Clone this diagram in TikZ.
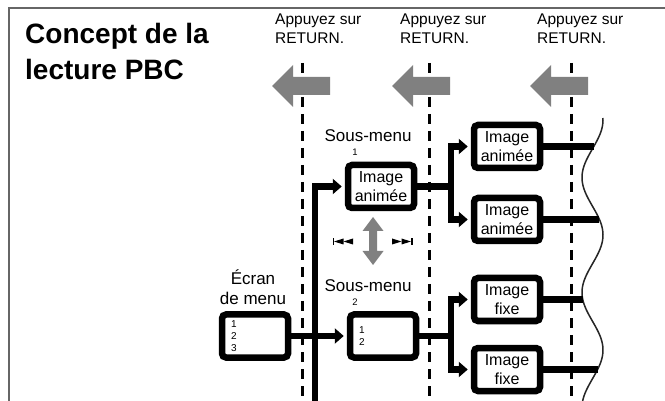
\documentclass[tikz,border=0pt]{standalone}
\usepackage{fontspec}
\setmainfont{Liberation Sans}
\usetikzlibrary{arrows.meta}
\begin{document}
\begin{tikzpicture}[x=1pt,y=-1pt,
  frameline/.style={draw=black!60, line width=1.5pt},
  vdash/.style={line width=3pt, dash pattern=on 10pt off 7pt},
  garrow/.style={fill=black!50},
  box/.style={draw, line width=6.5pt, rounded corners=4pt, minimum width=66pt, minimum height=43pt, inner sep=0pt, fill=white, font=\fontsize{16}{19}\selectfont, align=center},
  numbox/.style={box, align=left, text width=48pt, font=\fontsize{10}{11.7}\selectfont},
  conn/.style={line width=6.5pt},
  arr/.style={-{Triangle[length=9pt,width=15pt]}, shorten >=3pt},
  lbl/.style={font=\fontsize{17}{20}\selectfont, align=center, inner sep=0pt},
  num/.style={font=\fontsize{9.5}{11}\selectfont, inner sep=0pt},
  hint/.style={font=\fontsize{15.5}{19}\selectfont, align=left, inner sep=0pt},
  titlestyle/.style={font=\fontsize{28}{36}\selectfont\bfseries, align=left, inner sep=0pt},
  wave/.style={line width=1.5pt, black!85},
  backarrow/.pic={\fill[garrow] (0,0) -- ++(21,-21) -- ++(0,12) -- ++(37,0) -- ++(0,18) -- ++(-37,0) -- ++(0,12) -- cycle;}
]
\useasboundingbox (0,0) rectangle (665,401);
\fill[white] (0,0) rectangle (665,401);
% frame
\draw[frameline] (9,401) -- (9,8) -- (665,8);
% title (base anchor = last line)
\node[titlestyle, anchor=base west] (title) at (25,80) {Concept de la\\lecture PBC};
% hints
\node[hint, anchor=base west] (r1) at (275,44) {Appuyez sur\\RETURN.};
\node[hint, anchor=base west] (r2) at (400,44) {Appuyez sur\\RETURN.};
\node[hint, anchor=base west] (r3) at (537,44) {Appuyez sur\\RETURN.};
% dashed lines
\draw[vdash] (302,63) -- (302,401);
\draw[vdash] (429,63) -- (429,401);
\draw[vdash] (571,63) -- (571,401);
% gray back arrows
\pic at (272,86) {backarrow};
\pic at (392,86) {backarrow};
\pic at (530,86) {backarrow};
% wave
\draw[wave] plot[domain=118:401, samples=120] ({592.5+10.5*cos(((\x-120)/57.5)*180)}, \x);
% boxes
\node[box] (sub1) at (381,186.5) {Image\\animée};
\node[numbox] (sub2) at (383,336) {1\\2};
\node[numbox] (menu) at (255,336) {1\\2\\3};
\node[box] (A) at (507,146.5) {Image\\animée};
\node[box] (B) at (507,219.5) {Image\\animée};
\node[box] (C) at (507,299.5) {Image\\fixe};
\node[box] (D) at (507,369.5) {Image\\fixe};
% labels
\node[lbl, anchor=base] (sm1) at (368,142) {Sous-menu};
\node[num, anchor=base] (n1) at (355,155.5) {1};
\node[lbl, anchor=base] (sm2) at (368,292) {Sous-menu};
\node[num, anchor=base] (n2) at (355,305.5) {2};
\node[lbl, anchor=base] (ecran) at (253,305) {Écran\\de menu};
% double gray arrow
\fill[garrow] (373,217) -- (383.5,231) -- (377,231) -- (377,251) -- (383.5,251) -- (373,265) -- (362.5,251) -- (369,251) -- (369,231) -- (362.5,231) -- cycle;
% skip symbols
\fill (332.5,238) rectangle (334,245);
\fill (334,241.5) -- (343.5,238.5) -- (343.5,244.5) -- cycle;
\fill (343.5,241.5) -- (353,238.5) -- (353,244.5) -- cycle;
\fill (411,241.5) -- (401.5,238.5) -- (401.5,244.5) -- cycle;
\fill (401.5,241.5) -- (392,238.5) -- (392,244.5) -- cycle;
\fill (411,238) rectangle (412.5,245);
% connectors
\coordinate (bot) at (315,401);
\draw[conn, arr] (bot) |- (sub1.west);
\draw[conn, arr] (menu.east) -- (sub2.west);
\draw[conn] (sub1.east) -- ++(33.5,0) coordinate (j1);
\draw[conn, arr] (j1) |- (A.west);
\draw[conn, arr] (j1) |- (B.west);
\draw[conn] (sub2.east) -- ++(31.5,0) coordinate (j2);
\draw[conn, arr] (j2) |- (C.west);
\draw[conn, arr] (j2) |- (D.west);
\coordinate (eA) at (594.1,146.5);
\coordinate (eB) at (599.2,219.5);
\coordinate (eC) at (582.6,299.5);
\coordinate (eD) at (597.8,369.5);
\draw[conn] (A.east) -- (eA);
\draw[conn] (B.east) -- (eB);
\draw[conn] (C.east) -- (eC);
\draw[conn] (D.east) -- (eD);
\end{tikzpicture}
\end{document}
